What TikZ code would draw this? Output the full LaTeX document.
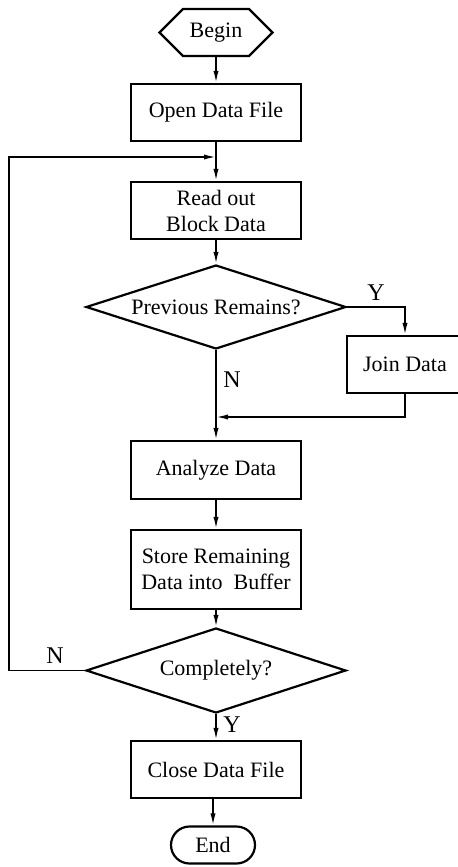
\documentclass[tikz,border=0pt]{standalone}
\usepackage{fontspec}
\setmainfont{Liberation Serif}
\usetikzlibrary{shapes.geometric,shapes.symbols,shapes.misc,arrows.meta}

\begin{document}
\begin{tikzpicture}[x=0.5pt,y=-0.5pt,
  font=\fontsize{11}{13}\selectfont,
  box/.style={draw,line width=1.1pt,minimum width=85pt,minimum height=28.5pt,align=center,inner sep=1pt},
  test/.style={draw,diamond,aspect=3.1,line width=1.1pt,minimum width=130pt,minimum height=42pt,inner sep=0pt},
  flow/.style={line width=0.8pt,-{Latex[length=6pt,width=2.6pt]}},
  yn/.style={inner sep=1pt,font=\fontsize{12}{13}\selectfont}]
% page size
\useasboundingbox (0,0) rectangle (458,867);

% terminals
\node[draw,line width=1.1pt,signal,signal to=west and east,minimum width=56.5pt,minimum height=23.5pt,inner sep=1pt] (begin) at (216,32.5) {Begin};
\node[draw,line width=1.1pt,rounded rectangle,minimum width=44pt,minimum height=18.5pt,inner sep=1pt] (end) at (213,845) {End};

% process boxes
\node[box] (open) at (216,112.5) {Open Data File};
\node[box] (read) at (216,210.5) {Read out\\Block Data};
\node[box,minimum width=58pt] (join) at (405,364.5) {Join Data};
\node[box,minimum height=29pt] (analyze) at (216,470) {Analyze Data};
\node[box,minimum height=39.5pt] (store) at (216,569.5) {Store Remaining\\Data into~ Buffer};
\node[box] (close) at (216,769.5) {Close Data File};

% decisions
\node[test] (prev) at (216,307) {Previous Remains?};
\node[test,minimum height=42.5pt] (done) at (216,670.5) {Completely?};

% joints on the main line
\coordinate (back) at (216,157);
\coordinate (merge) at (216,417);

% connectors
\draw[flow] (begin) -- (open);
\draw[flow] (open) -- (read);
\draw[flow] (read) -- (prev);
\draw[flow] (prev.east) -| (join);
\draw[flow] (prev) -- (analyze);
\draw[flow] (join.south) |- (merge);
\draw[flow] (analyze) -- (store);
\draw[flow] (store) -- (done);
\draw[flow] (done) -- (close);
\draw[flow] (end |- close.south) -- (end);
\draw[flow] (done.west) -- ++(-76,0) |- (back);

% branch labels
\node[yn] (y1) at (376,293) {Y};
\node[yn] (n1) at (232,380) {N};
\node[yn] (n2) at (55,656) {N};
\node[yn] (y2) at (232,725) {Y};
\end{tikzpicture}
\end{document}
